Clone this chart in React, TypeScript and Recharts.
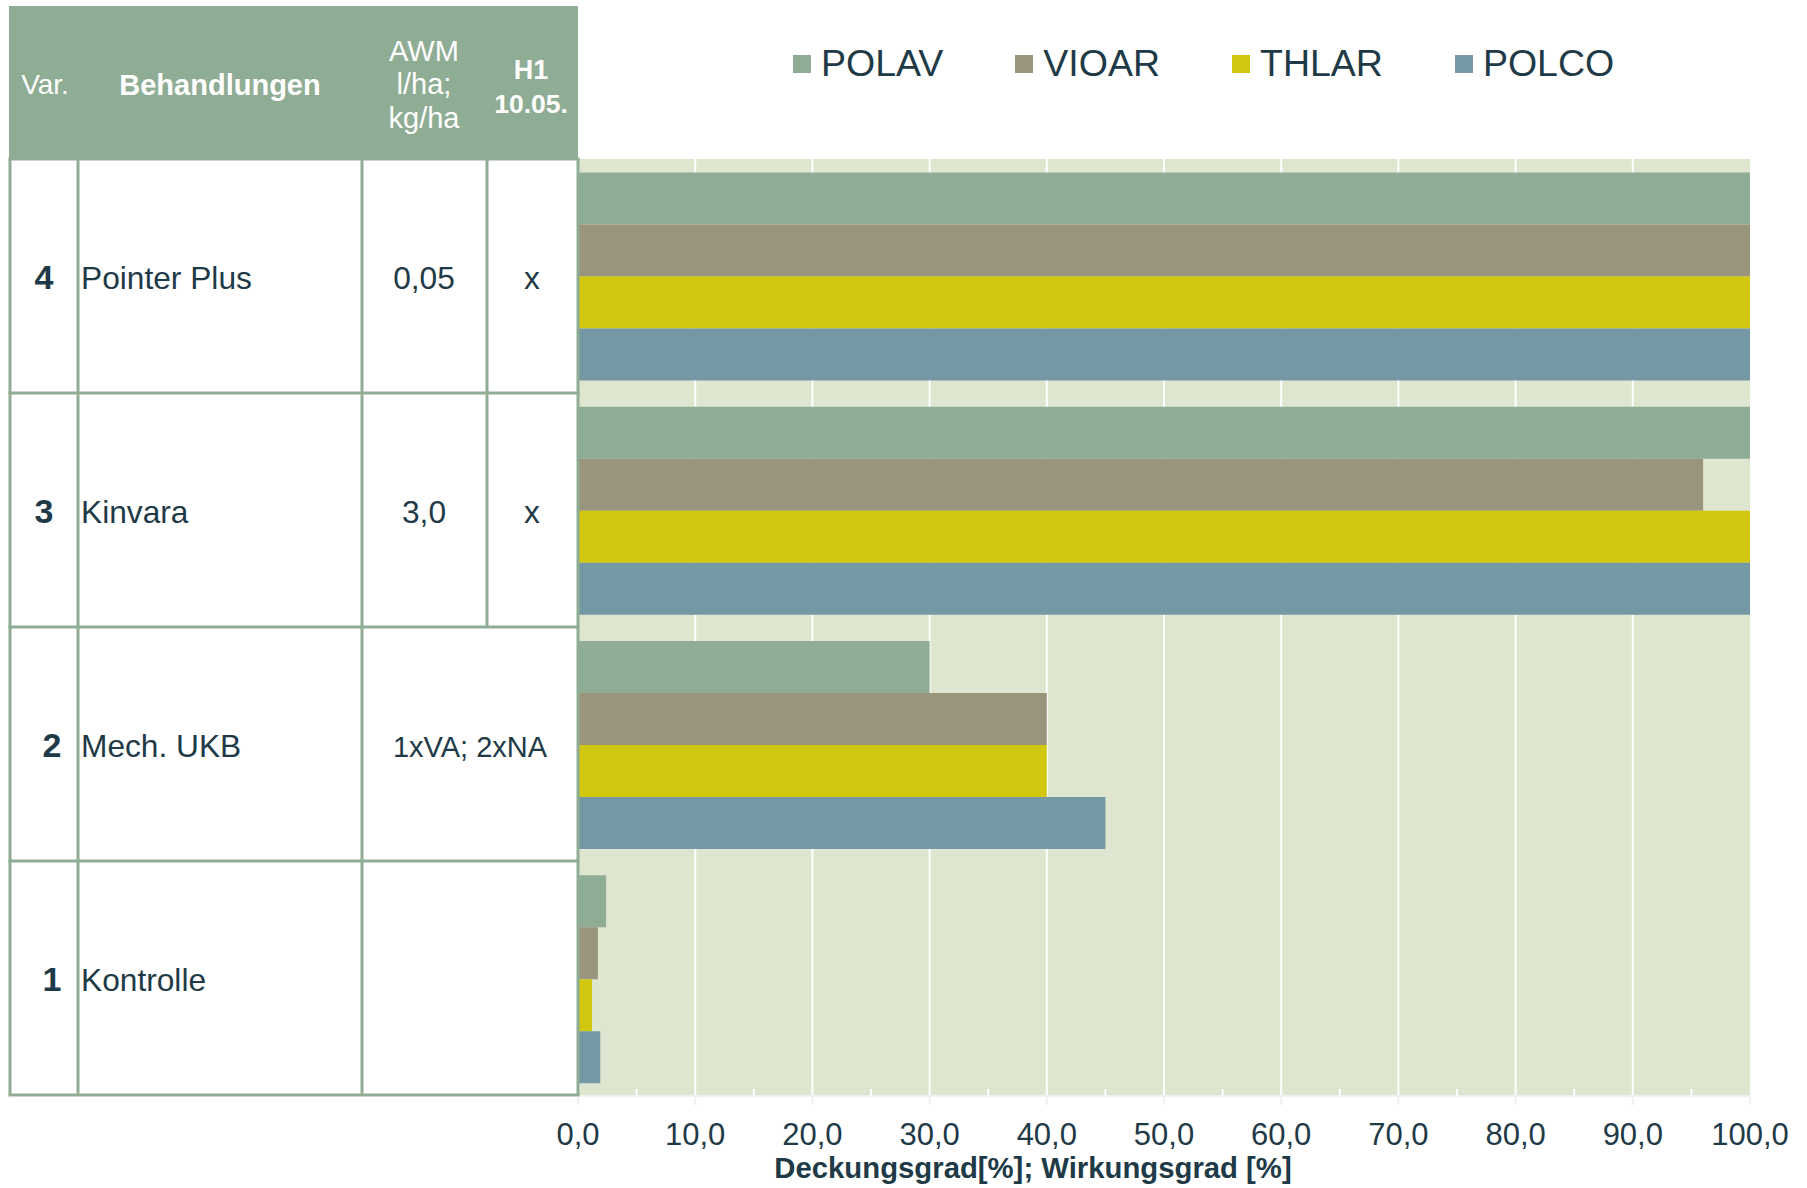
import React from 'react';
import { BarChart, Bar, XAxis, YAxis, CartesianGrid, Legend } from 'recharts';

// Tabelle links
const varianten = ['4', '3', '2', '1'];
const behandlungen = ['Pointer Plus', 'Kinvara', 'Mech. UKB', 'Kontrolle'];
const aufwand = ['0,05', '3,0', '1xVA; 2xNA', ''];
const termin = ['x', 'x', '', ''];

// Wirkungsgrad je Unkraut (%)
const polav = [100, 100, 30, 2.4];
const vioar = [100, 96, 40, 1.7];
const thlar = [100, 100, 40, 1.2];
const polco = [100, 100, 45, 1.9];

const seriesKeys = ['POLAV', 'VIOAR', 'THLAR', 'POLCO'];
const seriesColors = ['#8FAC95', '#99957C', '#D0C70E', '#7499A4'];

const xTicks = [0, 5, 10, 15, 20, 25, 30, 35, 40, 45, 50, 55, 60, 65, 70, 75, 80, 85, 90, 95, 100];
const gridTicks = [10, 20, 30, 40, 50, 60, 70, 80, 90];

const data = behandlungen.map((name, i) => ({
  name,
  POLAV: polav[i],
  VIOAR: vioar[i],
  THLAR: thlar[i],
  POLCO: polco[i],
}));

const FONT = '"Liberation Sans", Arial, sans-serif';
const TEXT = '#1F3A47';
const LINE = '#8FAC95';
const TICK_MARGIN = 27;

// table geometry
const TOP = 159;
const ROW_H = 234;
const LEFT = 10;
const RIGHT = 578;
const COL1 = 78;
const COL2 = 362;
const COL3 = 487;
const numX = [44, 44, 52, 52];

const XTick = (props: any) => {
  const { x, y, payload } = props;
  const v = payload.value;
  const base = y - TICK_MARGIN;
  if (v % 10 !== 0) {
    return <line x1={x} x2={x} y1={base} y2={base - 7} stroke="#ffffff" strokeWidth={2} />;
  }
  return (
    <g>
      <line x1={x} x2={x} y1={base + 1} y2={base + 9} stroke="#F0F0F0" strokeWidth={2} />
      <text x={x} y={y} dy="0.71em" textAnchor="middle" fill={TEXT} fontSize={31} fontFamily={FONT}>
        {v.toFixed(1).replace('.', ',')}
      </text>
    </g>
  );
};

const AxisTitle = (props: any) => {
  const { viewBox } = props;
  return (
    <text
      x={viewBox.x + 455}
      y={viewBox.y + 82}
      textAnchor="middle"
      fill={TEXT}
      fontSize={29.3}
      fontWeight="bold"
      fontFamily={FONT}
    >
      Deckungsgrad[%]; Wirkungsgrad [%]
    </text>
  );
};

const LegendContent = (props: any) => {
  const items = [...(props.payload || [])].sort(
    (a: any, b: any) => seriesKeys.indexOf(a.value) - seriesKeys.indexOf(b.value)
  );
  return (
    <div style={{ display: 'flex', alignItems: 'center', fontFamily: FONT, fontSize: 37.5, color: TEXT, whiteSpace: 'nowrap' }}>
      {items.map((p: any) => (
        <div key={p.value} style={{ display: 'flex', alignItems: 'center', marginRight: 72 }}>
          <span style={{ display: 'inline-block', width: 18, height: 18, background: p.color, marginRight: 10 }} />
          <span>{p.value}</span>
        </div>
      ))}
    </div>
  );
};

const Table = () => {
  const bottom = TOP + ROW_H * 4;
  const t = { fontFamily: FONT, fill: TEXT };
  return (
    <svg width={590} height={1188} style={{ position: 'absolute', left: 0, top: 0, pointerEvents: 'none' }}>
      <rect x={9} y={6} width={RIGHT - 9} height={TOP - 6} fill={LINE} />
      <g fill="#ffffff" fontFamily={FONT} textAnchor="middle">
        <text x={45} y={94} fontSize={28}>Var.</text>
        <text x={220} y={95} fontSize={29} fontWeight="bold">Behandlungen</text>
        <text x={424} y={61} fontSize={29}>AWM</text>
        <text x={424} y={94} fontSize={29}>l/ha;</text>
        <text x={424} y={128} fontSize={29}>kg/ha</text>
        <text x={531} y={79} fontSize={27} fontWeight="bold">H1</text>
        <text x={531} y={113} fontSize={26.5} fontWeight="bold">10.05.</text>
      </g>
      <g stroke={LINE} strokeWidth={3}>
        {[0, 1, 2, 3, 4].map((i) => (
          <line key={'h' + i} x1={LEFT - 1.5} x2={RIGHT + 1.5} y1={TOP + i * ROW_H} y2={TOP + i * ROW_H} />
        ))}
        <line x1={LEFT} x2={LEFT} y1={TOP} y2={bottom} />
        <line x1={COL1} x2={COL1} y1={TOP} y2={bottom} />
        <line x1={COL2} x2={COL2} y1={TOP} y2={bottom} />
        <line x1={COL3} x2={COL3} y1={TOP} y2={TOP + 2 * ROW_H} />
        <line x1={RIGHT} x2={RIGHT} y1={TOP} y2={bottom} />
      </g>
      {behandlungen.map((b, i) => {
        const cy = TOP + i * ROW_H + ROW_H / 2 + 13;
        const merged = termin[i] === '';
        return (
          <g key={b}>
            <text {...t} x={numX[i]} y={cy} fontSize={34} fontWeight="bold" textAnchor="middle">{varianten[i]}</text>
            <text {...t} x={81} y={cy} fontSize={31.7}>{b}</text>
            <text {...t} x={merged ? 470 : 424} y={cy} fontSize={merged ? 29 : 31.7} textAnchor="middle">{aufwand[i]}</text>
            <text {...t} x={532} y={cy} fontSize={31.7} textAnchor="middle">{termin[i]}</text>
          </g>
        );
      })}
    </svg>
  );
};

export default function App() {
  return (
    <div style={{ position: 'absolute', left: 0, top: 0, width: 1807, height: 1188, background: '#ffffff' }}>
      <div style={{ position: 'absolute', left: 0, top: 0 }}>
        <BarChart
          width={1807}
          height={1188}
          data={data}
          layout="vertical"
          margin={{ top: TOP, right: 57, bottom: 32, left: RIGHT }}
          barCategoryGap="5.8%"
          barGap={0}
        >
          <CartesianGrid
            horizontal={false}
            vertical={true}
            verticalValues={gridTicks}
            stroke="#ffffff"
            strokeWidth={2}
            fill="#DFE6D0"
            fillOpacity={1}
          />
          <XAxis
            type="number"
            domain={[0, 100]}
            ticks={xTicks}
            interval={0}
            height={60}
            tickSize={0}
            tickMargin={TICK_MARGIN}
            tickLine={false}
            axisLine={{ stroke: '#F0F0F0', strokeWidth: 2 }}
            tick={<XTick />}
            label={<AxisTitle />}
          />
          <YAxis type="category" dataKey="name" hide width={0} />
          <Legend
            layout="horizontal"
            verticalAlign="middle"
            align="center"
            content={<LegendContent />}
            wrapperStyle={{ top: 42, left: 793, width: 'auto' }}
          />
          {seriesKeys.map((k, i) => (
            <Bar key={k} dataKey={k} name={k} fill={seriesColors[i]} isAnimationActive={false} />
          ))}
        </BarChart>
      </div>
      <Table />
    </div>
  );
}
